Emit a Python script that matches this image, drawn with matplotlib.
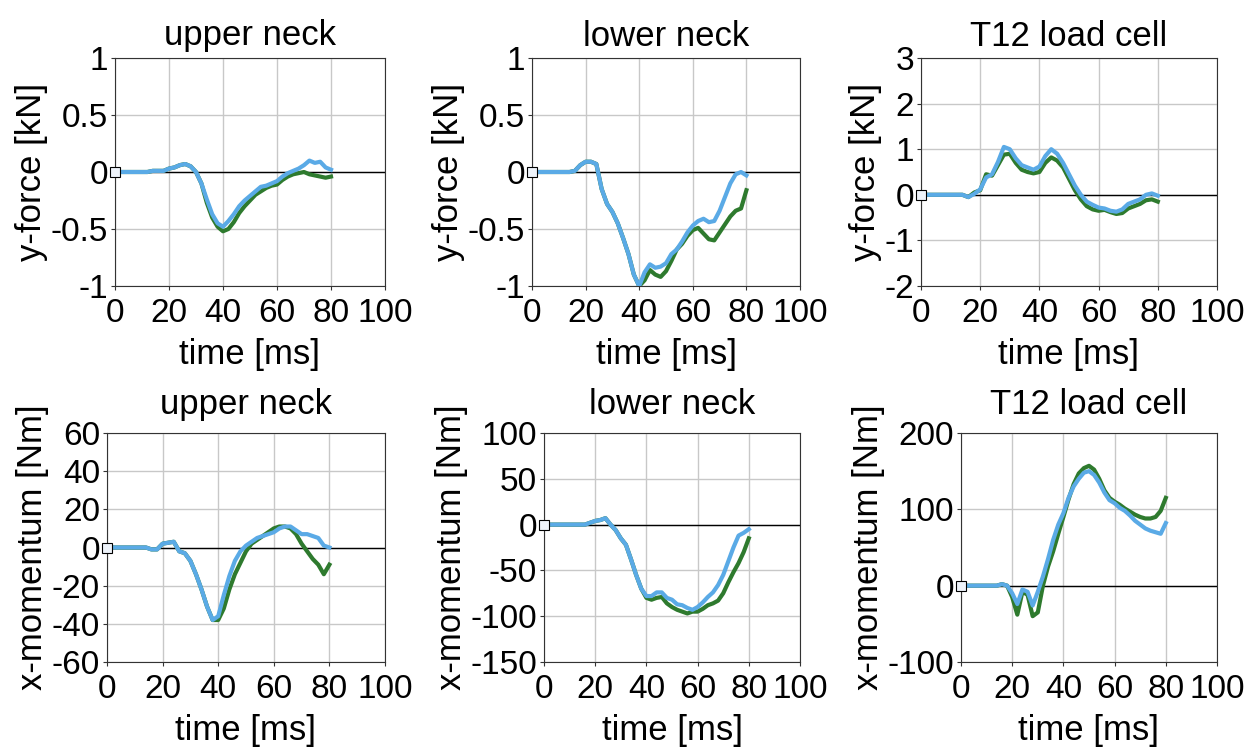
import numpy as np
import matplotlib
matplotlib.use("Agg")
from matplotlib import pyplot as plt

plt.rcParams['font.family'] = ['Liberation Sans', 'DejaVu Sans']
plt.rcParams['axes.unicode_minus'] = False

# time axis [ms], 2 ms steps
t = list(range(0, 82, 2))

# upper neck y-force [kN]
un_fy_green = [0, 0, 0, 0, 0, 0, 0, 0.01, 0.01, 0.01, 0.03, 0.04, 0.06, 0.07, 0.05, 0.0,
               -0.1, -0.27, -0.4, -0.48, -0.52, -0.5, -0.44, -0.36, -0.3, -0.25, -0.2,
               -0.17, -0.14, -0.12, -0.11, -0.07, -0.04, -0.02, -0.01, 0.0, -0.02, -0.03,
               -0.04, -0.05, -0.04]
un_fy_blue = [0, 0, 0, 0, 0, 0, 0, 0.01, 0.01, 0.01, 0.03, 0.04, 0.06, 0.07, 0.05, 0.0,
              -0.1, -0.24, -0.37, -0.45, -0.48, -0.43, -0.37, -0.3, -0.25, -0.21, -0.17,
              -0.13, -0.12, -0.1, -0.08, -0.04, -0.01, 0.01, 0.03, 0.06, 0.1, 0.08, 0.09,
              0.04, 0.02]

# lower neck y-force [kN]
ln_fy_green = [0, 0, 0, 0, 0, 0, 0, 0, 0.01, 0.06, 0.09, 0.09, 0.07, -0.15, -0.28, -0.35,
               -0.45, -0.58, -0.72, -0.9, -1.0, -0.95, -0.86, -0.9, -0.92, -0.87, -0.78,
               -0.68, -0.63, -0.56, -0.51, -0.49, -0.54, -0.59, -0.6, -0.53, -0.46, -0.39,
               -0.34, -0.32, -0.16]
ln_fy_blue = [0, 0, 0, 0, 0, 0, 0, 0, 0.01, 0.06, 0.09, 0.09, 0.07, -0.15, -0.28, -0.35,
              -0.45, -0.58, -0.72, -0.9, -1.0, -0.88, -0.81, -0.84, -0.83, -0.8, -0.72,
              -0.68, -0.61, -0.53, -0.47, -0.43, -0.41, -0.44, -0.43, -0.34, -0.22, -0.1,
              -0.02, 0.0, -0.03]

# T12 load cell y-force [kN]
t12_fy_green = [0, 0, 0, 0, 0, 0, 0, 0, -0.05, 0.05, 0.1, 0.45, 0.42, 0.65, 0.88, 0.9,
                0.7, 0.55, 0.5, 0.47, 0.5, 0.7, 0.82, 0.75, 0.6, 0.35, 0.1, -0.1, -0.25,
                -0.32, -0.35, -0.33, -0.38, -0.42, -0.4, -0.3, -0.25, -0.2, -0.12, -0.1,
                -0.15]
t12_fy_blue = [0, 0, 0, 0, 0, 0, 0, 0, -0.05, 0.02, 0.12, 0.38, 0.45, 0.72, 1.05, 1.0,
               0.8, 0.65, 0.6, 0.55, 0.62, 0.85, 1.0, 0.9, 0.7, 0.45, 0.2, 0.0, -0.15,
               -0.22, -0.28, -0.3, -0.35, -0.37, -0.32, -0.2, -0.15, -0.1, 0.0, 0.03, -0.02]

# upper neck x-momentum [Nm]
un_mx_green = [0, 0, 0, 0, 0, 0, 0, 0, -1, -1, 2, 2.5, 3, -2, -3, -7, -14, -22, -31, -38,
               -38, -32, -22, -14, -8, -2, 2, 4, 6, 8, 10, 11, 11, 10, 7, 2, -2, -6, -9,
               -14, -9]
un_mx_blue = [0, 0, 0, 0, 0, 0, 0, 0, -1, -1, 2, 2.5, 3, -2, -3, -7, -14, -22, -31, -38,
              -36, -25, -15, -7, -2, 1, 3, 5, 6, 7, 8, 10, 11, 11, 9, 7, 7, 6, 5, 1, 0]

# lower neck x-momentum [Nm]
ln_mx_green = [0, 0, 0, 0, 0, 0, 0, 0, 0, 2, 4, 5, 7, 0, -6, -15, -22, -38, -55, -70,
               -80, -82, -80, -79, -86, -90, -93, -95, -97, -95, -95, -92, -88, -86, -83,
               -75, -63, -52, -42, -30, -15]
ln_mx_blue = [0, 0, 0, 0, 0, 0, 0, 0, 0, 2, 4, 5, 7, 0, -6, -15, -22, -38, -55, -70,
              -78, -78, -74, -74, -80, -82, -87, -88, -91, -93, -90, -85, -79, -74, -66,
              -55, -40, -25, -12, -9, -5]

# T12 load cell x-momentum [Nm]
t12_mx_green = [0, 0, 0, 0, 0, 0, 0, 0, 2, 0, -15, -38, -8, -12, -40, -35, 0, 25, 45,
                68, 90, 113, 133, 147, 154, 157, 152, 140, 125, 115, 110, 106, 101, 97,
                93, 90, 88, 88, 90, 98, 115]
t12_mx_blue = [0, 0, 0, 0, 0, 0, 0, 0, 2, 0, -10, -24, -5, -8, -26, -8, 12, 35, 60, 80,
               95, 115, 130, 140, 148, 150, 145, 135, 122, 112, 108, 102, 98, 92, 85, 80,
               75, 72, 70, 68, 82]

green = '#2e7a2e'
blue = '#5aaae6'

panels = [
    # title, ylabel, green, blue, ylim, yticks, ytick labels, [left, top, width, height] in px, title pad
    ("upper neck", "y-force [kN]", un_fy_green, un_fy_blue, (-1, 1),
     [-1, -0.5, 0, 0.5, 1], ["-1", "-0.5", "0", "0.5", "1"], (115, 58, 270, 228), 9),
    ("lower neck", "y-force [kN]", ln_fy_green, ln_fy_blue, (-1, 1),
     [-1, -0.5, 0, 0.5, 1], ["-1", "-0.5", "0", "0.5", "1"], (532, 58, 268, 228), 9),
    ("T12 load cell", "y-force [kN]", t12_fy_green, t12_fy_blue, (-2, 3),
     [-2, -1, 0, 1, 2, 3], ["-2", "-1", "0", "1", "2", "3"], (921, 58, 296, 228), 9),
    ("upper neck", "x-momentum [Nm]", un_mx_green, un_mx_blue, (-60, 60),
     [-60, -40, -20, 0, 20, 40, 60], ["-60", "-40", "-20", "0", "20", "40", "60"],
     (107, 433, 278, 229), 14),
    ("lower neck", "x-momentum [Nm]", ln_mx_green, ln_mx_blue, (-150, 100),
     [-150, -100, -50, 0, 50, 100], ["-150", "-100", "-50", "0", "50", "100"],
     (544, 433, 256, 229), 14),
    ("T12 load cell", "x-momentum [Nm]", t12_mx_green, t12_mx_blue, (-100, 200),
     [-100, 0, 100, 200], ["-100", "0", "100", "200"], (961, 433, 256, 229), 14),
]

W, H = 1252, 749
fig = plt.figure(figsize=(W / 100, H / 100), dpi=100)

for title, ylab, yg, yb, ylim, yt, ytl, (px, py, pw, ph), tpad in panels:
    ax = fig.add_axes([px / W, 1 - (py + ph) / H, pw / W, ph / H])
    ax.grid(True, color='#c8c8c8', lw=1)
    ax.set_axisbelow(True)
    ax.axhline(0, color='black', lw=1, zorder=2)
    ax.plot(t, yg, color=green, lw=3, zorder=3)
    ax.plot(t, yb, color=blue, lw=3, zorder=4)
    ax.plot([0], [0], marker='s', ms=7, mfc='#eef3fa', mec='black', mew=0.8,
            clip_on=False, zorder=5)
    ax.set_xlim(0, 100)
    ax.set_ylim(*ylim)
    ax.set_xticks([0, 20, 40, 60, 80, 100])
    ax.set_yticks(yt)
    ax.set_yticklabels(ytl)
    ax.tick_params(labelsize=24, length=3, width=0.8, color='#333333')
    ax.tick_params(axis='x', pad=6)
    ax.tick_params(axis='y', pad=2)
    for s in ax.spines.values():
        s.set_color('#333333')
        s.set_linewidth(0.8)
    ax.set_title(title, fontsize=25, pad=tpad)
    ax.set_xlabel("time [ms]", fontsize=25, labelpad=6)
    ax.set_ylabel(ylab, fontsize=25, labelpad=2)

fig.savefig("out.png", dpi=100)
